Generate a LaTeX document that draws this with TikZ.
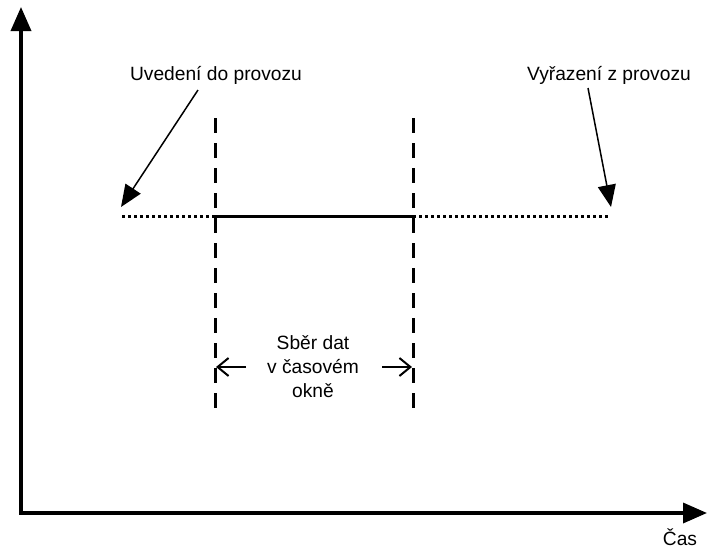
\documentclass[tikz,border=0pt]{standalone}
\usepackage{fontspec}
\setmainfont{Liberation Sans}
\usetikzlibrary{arrows.meta}
\begin{document}
\begin{tikzpicture}[x=1pt,y=-1pt,
  axis/.style={line width=3.5pt,-{Triangle[length=24pt,width=20pt]}},
  pointer/.style={line width=1.5pt,-{Triangle[length=22pt,width=18pt]}},
  bound/.style={line width=3pt,dash pattern=on 15pt off 10pt},
  dotline/.style={line width=3pt,dash pattern=on 3pt off 3pt},
  span/.style={line width=2pt,-{Straight Barb[length=11pt,width=18pt,line width=2pt]}},
  lbl/.style={font=\fontsize{19.2}{24}\selectfont,inner sep=0pt,align=center}]
\useasboundingbox (0,0) rectangle (710,549);
\coordinate (o) at (21,513);
\coordinate (ytop) at (21,7);
\coordinate (xend) at (707,513);
\draw[axis] (o) -- (ytop);
\draw[axis] ([xshift=-1.75pt]o) -- (xend);
\coordinate (l0) at (122,216);
\coordinate (l1) at (215,216);
\coordinate (l2) at (413,216);
\coordinate (l3) at (610,216);
\draw[dotline] (l0) -- (l1);
\draw[line width=3pt] (l1) -- (l2);
\draw[dotline] (l2) -- (l3);
\coordinate (b1t) at (215,118);
\coordinate (b1b) at (215,408);
\coordinate (b2t) at (413,118);
\coordinate (b2b) at (413,408);
\draw[bound] (b1t) -- (b1b);
\draw[bound] (b2t) -- (b2b);
\node[lbl] (uv) at (216,75) {Uvedení do provozu};
\node[lbl] (vy) at (609,75) {Vyřazení z provozu};
\coordinate (a1s) at (198,90);
\coordinate (a1e) at (121,207);
\coordinate (a2s) at (588,88);
\coordinate (a2e) at (611,207);
\draw[pointer] (a1s) -- (a1e);
\draw[pointer] (a2s) -- (a2e);
\node[lbl] (sb) at (313,367) {Sběr dat\\v časovém\\okně};
\coordinate (s1s) at (246,367);
\coordinate (s1e) at (216,367);
\coordinate (s2s) at (382,367);
\coordinate (s2e) at (412,367);
\draw[span] (s1s) -- (s1e);
\draw[span] (s2s) -- (s2e);
\node[lbl] (cas) at (680,537) {Čas};
\end{tikzpicture}
\end{document}
